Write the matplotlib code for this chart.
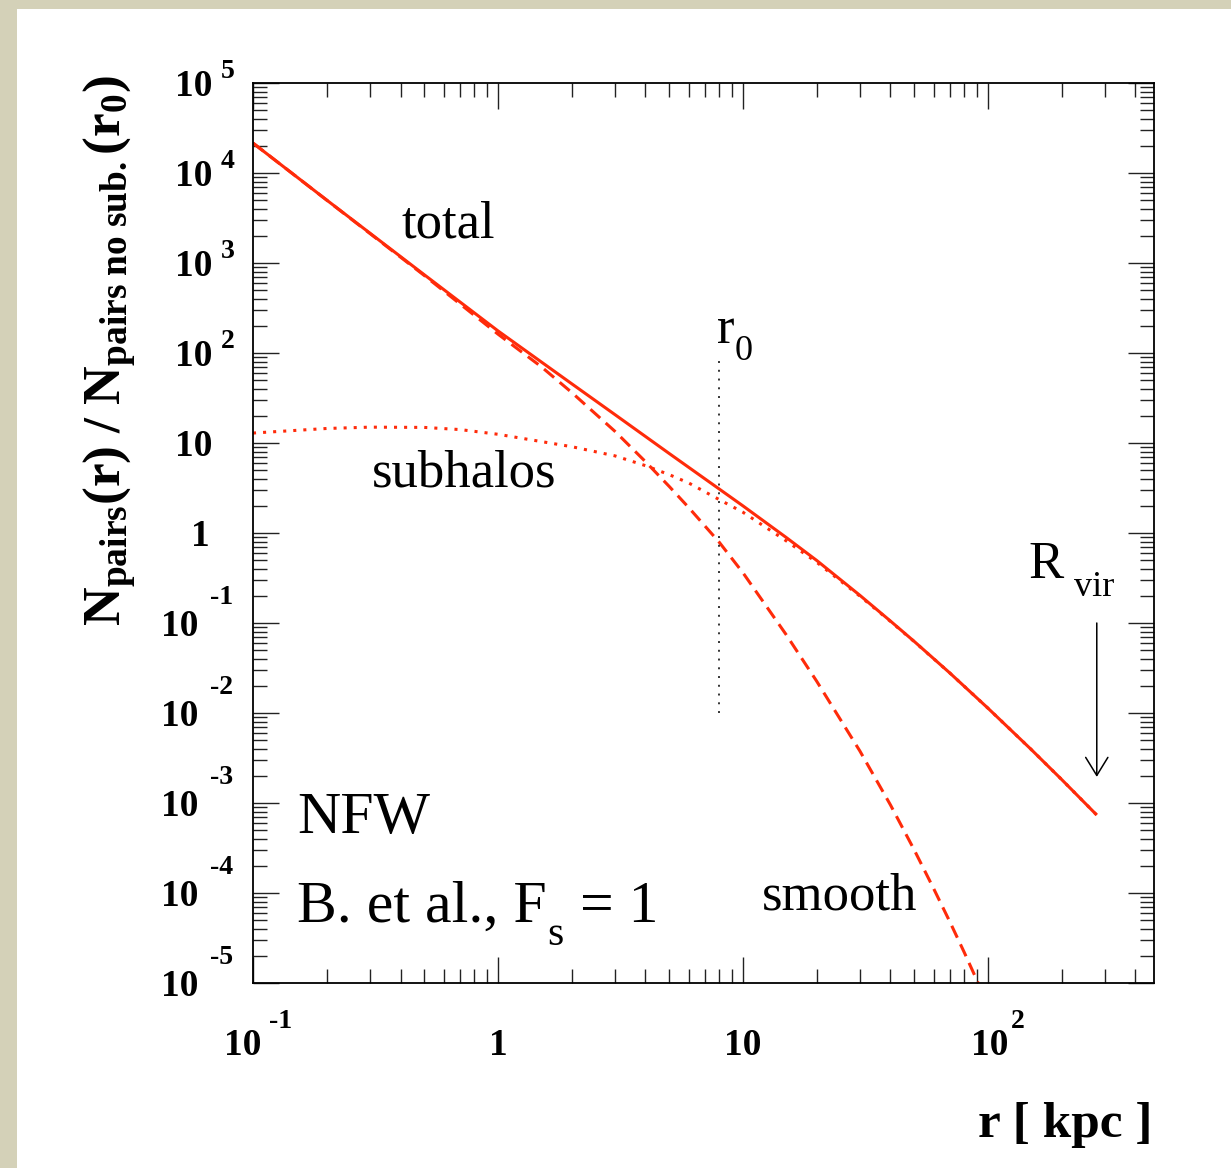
import numpy as np
import matplotlib.pyplot as plt
from matplotlib import transforms
from matplotlib.patches import Rectangle
from matplotlib.ticker import LogLocator, NullFormatter

plt.rcParams['font.family'] = 'Liberation Serif'
plt.rcParams['mathtext.fontset'] = 'custom'
plt.rcParams['mathtext.rm'] = 'Liberation Serif'
plt.rcParams['mathtext.bf'] = 'Liberation Serif:bold'
plt.rcParams['mathtext.it'] = 'Liberation Serif:italic'

# pair counts normalised to the no-substructure value at r0 (r in kpc)
r_total = [0.1, 0.2, 0.5, 1, 2, 3, 5, 8, 10, 15, 20, 30, 40, 50, 70, 100, 150,
           200, 278]
n_total = [2.15e4, 5.0e3, 741, 176, 45.5, 20.7, 7.64, 3.08, 2.0, 0.893, 0.495,
           0.203, 0.105, 0.0624, 0.0277, 0.0113, 3.94e-3, 1.82e-3, 7.35e-4]

r_smooth = [0.1, 0.2, 0.5, 1, 1.5, 2, 3, 4, 5, 6, 8, 10, 15, 20, 30, 40, 50,
            60, 70, 80, 90, 95]
n_smooth = [2.15e4, 4.99e3, 727, 162, 70.6, 36.4, 13.5, 6.2, 3.29, 1.92, 0.789,
            0.361, 0.0743, 0.0225, 3.78e-3, 9.5e-4, 3.01e-4, 1.12e-4, 4.74e-5,
            2.19e-5, 1.08e-5, 7.8e-6]

r_sub = [0.1, 0.2, 0.3, 0.5, 0.7, 1, 2, 3, 4, 5, 6, 8, 10, 15, 20, 30, 40, 50,
         70, 100, 150, 200, 278]
n_sub = [12.9, 14.5, 15.0, 14.9, 14.1, 12.5, 9.1, 7.2, 5.6, 4.45, 3.6, 2.35,
         1.7, 0.819, 0.4725, 0.199, 0.104, 0.0621, 0.0277, 0.0113, 3.94e-3,
         1.82e-3, 7.35e-4]

r0 = 8.0
r_vir = 278.0

W, H = 1231, 1168
red = '#ff2b0a'

fig = plt.figure(figsize=(W / 100, H / 100), dpi=100)
fig.patch.set_facecolor('#d4d1b8')
fig.add_artist(Rectangle((17 / W, 0), 1, 1 - 9 / H, transform=fig.transFigure,
                         facecolor='white', edgecolor='none', zorder=0))

ax = fig.add_axes([253 / W, 1 - 983 / H, 901 / W, 900 / H])
ax.set_facecolor('white')
ax.set_xscale('log')
ax.set_yscale('log')
ax.set_xlim(0.1, 476)
ax.set_ylim(1e-5, 1e5)

ax.plot(r_total, n_total, color=red, lw=2.2, solid_capstyle='butt')
ax.plot(r_smooth, n_smooth, color=red, lw=2.2, ls=(0, (4.3, 2.4)))
ax.plot(r_sub, n_sub, color=red, lw=2.2, ls=(0, (1, 2.3)), dash_capstyle='butt')

# r0 marker and virial radius arrow
ax.plot([r0, r0], [0.01, 90], color='#333333', lw=1.4, ls=(0, (1, 3.5)))
ax.annotate('', xy=(r_vir, 1.95e-3), xytext=(r_vir, 0.1),
            arrowprops=dict(arrowstyle='->,head_length=1.3,head_width=0.8',
                            lw=1.1, color='black', shrinkA=0, shrinkB=0))

for axis in (ax.xaxis, ax.yaxis):
    axis.set_major_locator(LogLocator(base=10, numticks=30))
    axis.set_minor_locator(LogLocator(base=10, subs=np.arange(2, 10), numticks=30))
    axis.set_major_formatter(NullFormatter())
    axis.set_minor_formatter(NullFormatter())
ax.tick_params(which='major', length=19, width=1.0, direction='in', color='#222222',
               top=True, right=True)
ax.tick_params(which='minor', length=10, width=1.0, direction='in', color='#222222',
               top=True, right=True)
for s in ax.spines.values():
    s.set_linewidth(1.3)

# tick labels, ROOT style: base and raised exponent drawn separately
ytr = transforms.blended_transform_factory(fig.transFigure, ax.transData)
lab = dict(size=27, weight='bold', va='baseline')
sup = dict(size=20, weight='bold', va='baseline')
for k in range(-5, 6):
    base = transforms.offset_copy(ytr, fig=fig, y=-13, units='dots')
    if k == 0:
        fig.text(210 / W, 1, '1', transform=base, ha='right', **lab)
    elif k == 1:
        fig.text(212 / W, 10, '10', transform=base, ha='right', **lab)
    elif k > 1:
        fig.text(212 / W, 10.0 ** k, '10', transform=base, ha='right', **lab)
        ex = transforms.offset_copy(ytr, fig=fig, y=5, units='dots')
        fig.text(221 / W, 10.0 ** k, str(k), transform=ex, ha='left', **sup)
    else:
        fig.text(198 / W, 10.0 ** k, '10', transform=base, ha='right', **lab)
        ex = transforms.offset_copy(ytr, fig=fig, y=19, units='dots')
        fig.text(210 / W, 10.0 ** k, str(k), transform=ex, ha='left', **sup)

xtr = transforms.blended_transform_factory(ax.transData, fig.transFigure)
ybase = 1 - 1055 / H
yexp = 1 - 1028 / H
fig.text(0.1, ybase, '10', ha='right', size=27, weight='bold', va='baseline',
         transform=transforms.offset_copy(xtr, fig=fig, x=8, units='dots'))
fig.text(0.1, yexp, '-1', ha='left', size=20, weight='bold', va='baseline',
         transform=transforms.offset_copy(xtr, fig=fig, x=16, units='dots'))
fig.text(1, ybase, '1', ha='center', transform=xtr, size=27, weight='bold', va='baseline')
fig.text(10, ybase, '10', ha='center', transform=xtr, size=27, weight='bold', va='baseline')
fig.text(100, ybase, '10', ha='right', size=27, weight='bold', va='baseline',
         transform=transforms.offset_copy(xtr, fig=fig, x=20, units='dots'))
fig.text(100, yexp, '2', ha='left', size=20, weight='bold', va='baseline',
         transform=transforms.offset_copy(xtr, fig=fig, x=23, units='dots'))

# axis titles
fig.text(1152 / W, 1 - 1137 / H, 'r [ kpc ]', ha='right', va='baseline',
         size=37, weight='bold')
fig.text(110 / W, 1 - 75 / H,
         r'$\mathbf{N_{pairs}(r)\ /\ N_{pairs\ no\ sub.}(r_{0})}$',
         rotation=90, ha='center', va='top', size=38.5)


def note(x, y, s, size=38):
    fig.text(x / W, 1 - y / H, s, ha='left', va='baseline', size=size)


note(402, 237, 'total')
note(372, 487, 'subhalos')
note(762, 910, 'smooth')
note(717, 343, 'r')
note(735, 360, '0', size=26)
note(1028, 578, 'R')
note(1074, 596, 'vir', size=26)
note(297, 833, 'NFW', size=43)
note(297, 922, 'B. et al., F', size=43)
note(547, 945, 's', size=30)
note(580, 922, '= 1', size=43)

fig.savefig('out.png', dpi=100, facecolor=fig.get_facecolor())
